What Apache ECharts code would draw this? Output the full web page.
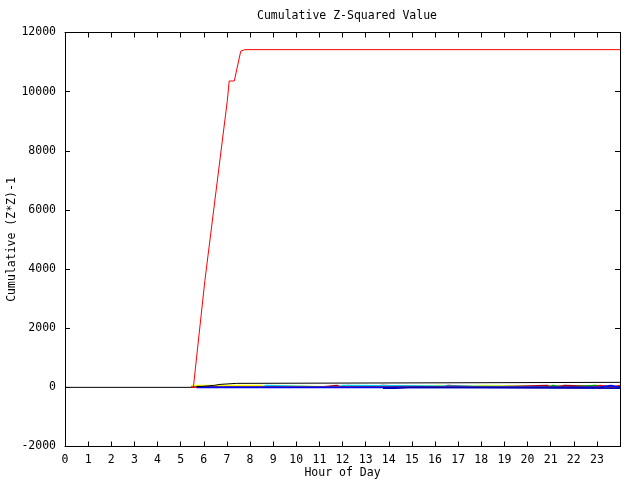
<!DOCTYPE html>
<html>
<head>
<meta charset="utf-8">
<script src="https://cdn.jsdelivr.net/npm/echarts@6/dist/echarts.min.js"></script>
<style>html,body{margin:0;padding:0;background:#fff}#c{width:640px;height:480px}</style>
</head>
<body>
<div id="c"></div>
<script>
// Hour tick labels (0..23), axis range 0..24
var hourTicks = [0,1,2,3,4,5,6,7,8,9,10,11,12,13,14,15,16,17,18,19,20,21,22,23];
var yTicks = [-2000,0,2000,4000,6000,8000,10000,12000];

// Main red series (hour, value)
var redHours  = [5.55, 6.05, 7.02, 7.10, 7.32, 7.60, 7.78, 24];
var redValues = [0, 3620, 9700, 10360, 10360, 11370, 11420, 11420];

// Black series (stepped)
var blackHours  = [5.69, 5.94, 6.46, 6.70, 7.42, 24];
var blackValues = [34, 68, 100, 135, 170, 170];

// Small series near zero (stepped)
var yellowHours  = [5.45, 8.48, 8.72, 8.94, 12.24, 12.50, 13.75, 16.29, 16.56, 18.08, 24];
var yellowValues = [60, 0, 60, 0, 60, 0, 60, 0, 60, 0, 0];

var darkRedHours  = [5.45, 10.98, 11.75, 12.02, 12.24, 12.50, 13.75, 16.29, 16.56, 18.08, 20.84, 21.10, 21.62, 24];
var darkRedValues = [0, 60, 0, 60, 0, 60, 0, 60, 0, 60, 0, 60, 0, 0];

var cyanHours  = [5.45, 8.48, 8.72, 11.75, 12.02, 24];
var cyanValues = [0, 60, 0, 60, 0, 0];

var greenHours  = [5.45, 20.84, 21.10, 21.62, 22.92, 24];
var greenValues = [0, 60, 0, 60, 0, 0];

var red2Hours  = [5.45, 22.92, 23.14, 23.61, 24];
var red2Values = [0, 60, 0, 60, 60];

var blueHours  = [5.69, 23.14, 23.61, 24];
var blueValues = [0, 60, 0, 0];

var darkBlueHours  = [13.75, 14.27, 15.05, 24];
var darkBlueValues = [-30, 0, -30, -30];

// Zero reference line
var zeroHours  = [0, 24];
var zeroValues = [0, 0];

function pairs(h, v) { return h.map(function (x, i) { return [x, v[i]]; }); }

var FONT = 'DejaVu Sans Mono';
var chart = echarts.init(document.getElementById('c'), null, {renderer: 'canvas'});

function line(name, color, h, v, step, z, w) {
  return {
    name: name, type: 'line', data: pairs(h, v), step: step || false,
    showSymbol: false, symbol: 'none', z: z, silent: true,
    lineStyle: {color: color, width: w || 1}, itemStyle: {color: color}
  };
}

var series = [
  line('zero', '#000000', zeroHours, zeroValues, false, 1),
  line('yellow', '#ffff00', yellowHours, yellowValues, 'end', 2, 1.5),
  line('darkred', '#a0001e', darkRedHours, darkRedValues, 'end', 3, 1.5),
  line('cyan', '#00d0f0', cyanHours, cyanValues, 'end', 4, 1.5),
  line('green', '#00a000', greenHours, greenValues, 'end', 5, 1.5),
  line('red2', '#ff0000', red2Hours, red2Values, 'end', 6, 1.5),
  line('blue', '#0000ff', blueHours, blueValues, 'end', 7, 1.8),
  line('darkblue', '#0000b0', darkBlueHours, darkBlueValues, 'end', 8, 1.4),
  line('black', '#000000', blackHours, blackValues, 'end', 9),
  line('red', '#ff0000', redHours, redValues, false, 10)
];

var axisLabelStyle = {fontFamily: FONT, fontSize: 11.5, color: '#000'};
var axisLineStyle = {show: true, onZero: false, lineStyle: {color: '#000', width: 1}};
var tickStyle = {show: true, inside: true, length: 5, lineStyle: {color: '#000'}};

chart.setOption({
  animation: false,
  backgroundColor: '#fff',
  title: {
    text: 'Cumulative Z-Squared Value', left: 342, top: 5, textAlign: 'center',
    textStyle: {fontFamily: FONT, fontSize: 11.5, fontWeight: 'normal', color: '#000'}
  },
  grid: {left: 65, right: 20, top: 32.5, bottom: 33.5, containLabel: false, outerBoundsMode: 'none'},
  xAxis: [{
    type: 'value', min: 0, max: 24, interval: 1,
    axisLine: axisLineStyle, axisTick: tickStyle,
    splitLine: {show: false},
    axisLabel: Object.assign({margin: 8, formatter: function (v) { return hourTicks.indexOf(v) >= 0 ? String(v) : ''; }}, axisLabelStyle),
    name: 'Hour of Day', nameLocation: 'middle', nameGap: 21, nameMoveOverlap: false,
    nameTextStyle: axisLabelStyle
  }, {
    type: 'value', min: 0, max: 24, interval: 1, position: 'top',
    axisLine: axisLineStyle, axisTick: tickStyle,
    splitLine: {show: false}, axisLabel: {show: false}
  }],
  yAxis: [{
    type: 'value', min: -2000, max: 12000, interval: 2000,
    axisLine: axisLineStyle, axisTick: tickStyle,
    splitLine: {show: false},
    axisLabel: Object.assign({margin: 9, formatter: function (v) { return yTicks.indexOf(v) >= 0 ? String(v) : ''; }}, axisLabelStyle),
    name: 'Cumulative (Z*Z)-1', nameLocation: 'middle', nameGap: 47, nameRotate: 90, nameMoveOverlap: false,
    nameTextStyle: axisLabelStyle
  }, {
    type: 'value', min: -2000, max: 12000, interval: 2000, position: 'right',
    axisLine: axisLineStyle, axisTick: tickStyle,
    splitLine: {show: false}, axisLabel: {show: false}
  }],
  series: series
});
</script>
</body>
</html>
